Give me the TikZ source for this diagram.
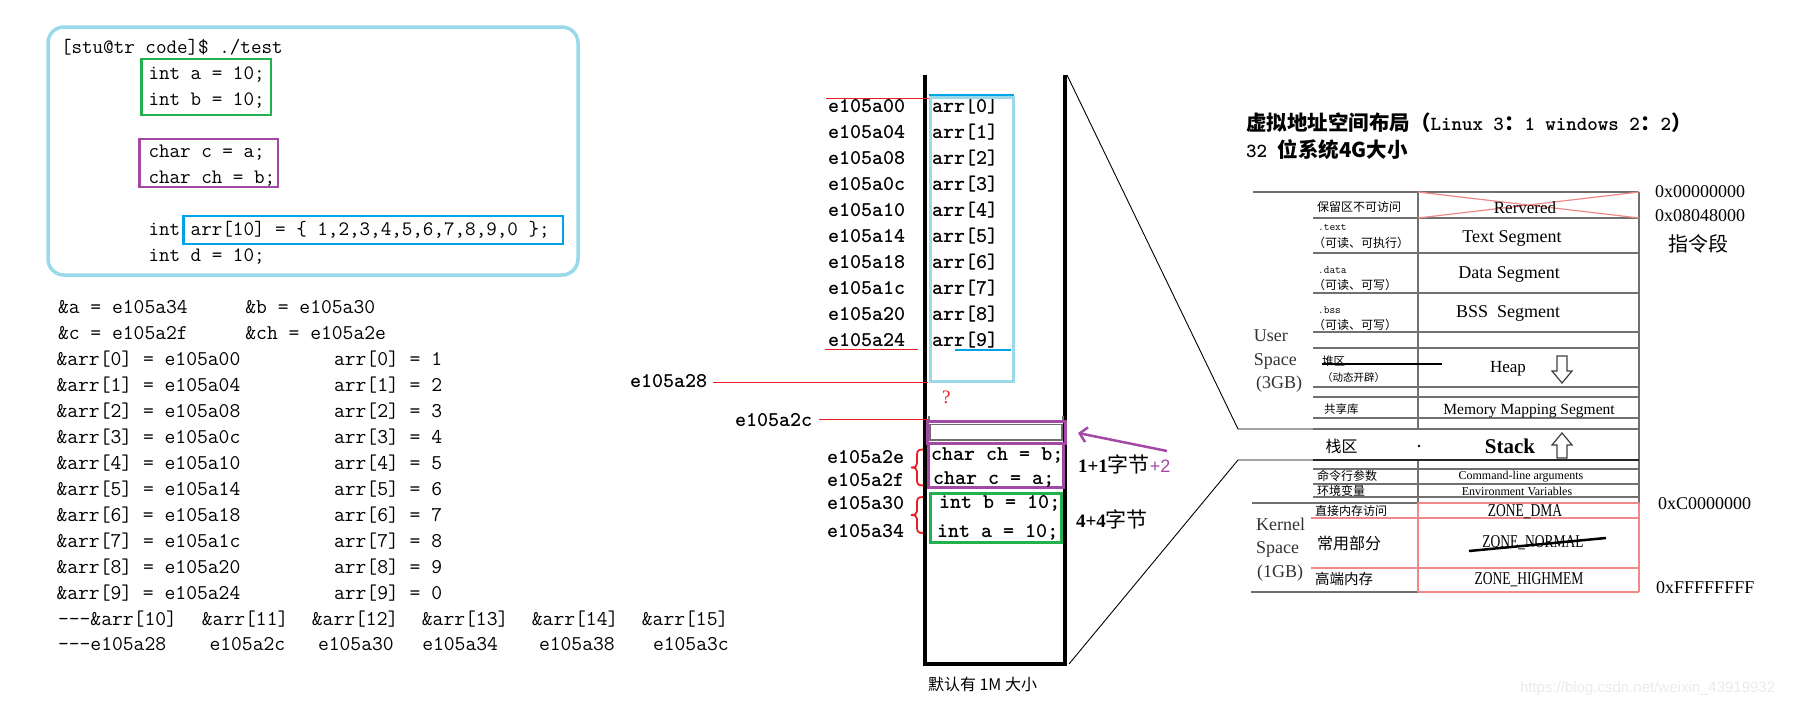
\documentclass[tikz,border=0pt]{standalone}
\usepackage{fontspec}
\usepackage{graphicx}
\newfontfamily\cjk{Noto Sans CJK SC}
\newfontfamily\tms{Liberation Serif}
\newfontfamily\tmsc[FakeStretch=0.75]{Liberation Serif}
\newfontfamily\arl{Liberation Sans}
\usetikzlibrary{arrows.meta}
\definecolor{pgreen}{HTML}{22B14C}
\definecolor{ppurple}{HTML}{A349A4}
\definecolor{pblue}{HTML}{00A2E8}
\definecolor{plblue}{HTML}{99D9EA}
\definecolor{pred}{HTML}{ED1C24}
\definecolor{tred}{HTML}{F08A8A}
\definecolor{tgray}{HTML}{707070}
\newcommand\fs[1]{\fontsize{#1}{#1}\selectfont}
\begin{document}
\begin{tikzpicture}[x=1pt,y=-1pt,
  txt/.style={inner sep=0pt,outer sep=0pt,anchor=base west},
  code/.style={txt,font=\ttfamily\fs{20.5}},
  lst/.style={txt,font=\ttfamily\fs{21}},
  mid/.style={txt,font=\ttfamily\bfseries\fs{21}},
  cl/.style={inner sep=0pt,anchor=west,font=\cjk\fs{12}},
  cc/.style={inner sep=0pt,anchor=center,font=\tms\fs{18}},
  lw/.style={inner sep=0pt,anchor=west,font=\tms\fs{18},text=black!80},
  tline/.style={draw=tgray,line width=1.4},
  rline/.style={draw=tred,line width=1.4},
  redl/.style={draw=pred,line width=1},
  rbrace/.pic={\draw[pred,line width=1.8] (6,-18) .. controls (0,-18) and (0,-16) .. (0,-10) -- (0,-4) .. controls (0,-1) and (-2,0) .. (-6,0) .. controls (-2,0) and (0,1) .. (0,4) -- (0,10) .. controls (0,16) and (0,18) .. (6,18);}
]
\useasboundingbox (0,0) rectangle (1800,704);
\fill[white] (0,0) rectangle (1800,704);

% ---------- top-left code box ----------
\draw[plblue,line width=3.5,rounded corners=16] (48,27) rectangle (578,275);
\draw[pgreen,line width=2.5] (141.6,59) rectangle (271,115);
\draw[ppurple,line width=2.5] (139.7,139) rectangle (278,187);
\draw[pblue,line width=2.5] (183.7,216) rectangle (563,244);
\node[code] (c0) at (61,53) {[stu@tr code]\$ ./test};
\node[code] (c1) at (148.5,79) {int a = 10;};
\node[code] (c2) at (148.5,105) {int b = 10;};
\node[code] (c3) at (148.5,157) {char c = a;};
\node[code] (c4) at (148.5,183) {char ch = b;};
\node[code] (c5) at (148.5,235) {int arr[10] = \{ 1,2,3,4,5,6,7,8,9,0 \};};
\node[code] (c6) at (148.5,261) {int d = 10;};

% ---------- address list ----------
\node[lst] (pa) at (58,313) {\&a = e105a34};
\node[lst] (pb) at (245.4,313) {\&b = e105a30};
\node[lst] (pc) at (58,339) {\&c = e105a2f};
\node[lst] (pch) at (245.4,339) {\&ch = e105a2e};
\foreach \i/\a/\v in {0/00/1,1/04/2,2/08/3,3/0c/4,4/10/5,5/14/6,6/18/7,7/1c/8,8/20/9,9/24/0}{
  \node[lst] (la\i) at (56.5,{365+26*\i}) {\&arr[\i] = e105a\a};
  \node[lst] (lv\i) at (334,{365+26*\i}) {arr[\i] = \v};
  \node[mid] (ma\i) at (828,{112.7+26*\i}) {e105a\a};
  \node[mid] (mv\i) at (932,{112.7+26*\i}) {arr[\i]};
}
\node[lst] (x10) at (58,625) {-{}-{}-\&arr[10]};
\node[lst] (x11) at (201.9,625) {\&arr[11]};
\node[lst] (x12) at (311.9,625) {\&arr[12]};
\node[lst] (x13) at (421.9,625) {\&arr[13]};
\node[lst] (x14) at (531.9,625) {\&arr[14]};
\node[lst] (x15) at (641.9,625) {\&arr[15]};
\node[lst] (y10) at (58,650) {-{}-{}-e105a28};
\node[lst] (y11) at (209.5,650) {e105a2c};
\node[lst] (y12) at (318,650) {e105a30};
\node[lst] (y13) at (422.3,650) {e105a34};
\node[lst] (y14) at (539,650) {e105a38};
\node[lst] (y15) at (653,650) {e105a3c};

% ---------- stack column ----------
\coordinate (sTL) at (925,75); \coordinate (sBL) at (925,664);
\coordinate (sBR) at (1065,664); \coordinate (sTR) at (1065,75);
\draw[black,line width=3.5] (sTL) -- (sBL) -- (sBR) -- (sTR);
\draw[pblue,line width=2] (929,95) -- (1014,95);
\draw[plblue,line width=3] (930,97) rectangle (1013,381);
\draw[pblue,line width=1.5] (955,350) -- (1011,350);
\draw[redl] (826,98) -- (929,98);
\draw[redl] (825,349) -- (918,349);
\node[mid] (m28) at (630,387) {e105a28};
\draw[redl] (713,382) -- (928,382);
\node[txt,font=\tms\fs{19},text=pred] (q) at (942,403) {?};
\node[mid] (m2c) at (735,426) {e105a2c};
\draw[redl] (819,419) -- (928,419);
\draw[tgray,line width=2] (929,416) -- (929,423) (1063,416) -- (1063,423);
\draw[ppurple,line width=3] (927,421) rectangle (1065,443);
\draw[tgray,line width=1.5] (930,424.5) rectangle (1062,440);
\draw[ppurple,line width=3] (928,443.5) rectangle (1063,487);
\draw[pgreen,line width=3] (930,493) rectangle (1061,542);
\node[mid] (s1) at (931,460) {char ch = b;};
\node[mid] (s2) at (933,484) {char c = a;};
\node[mid] (s3) at (939,508) {int b = 10;};
\node[mid] (s4) at (937,537) {int a = 10;};
\node[mid] (m2e) at (827,463) {e105a2e};
\node[mid] (m2f) at (827,486) {e105a2f};
\node[mid] (m30) at (827,509) {e105a30};
\node[mid] (m34) at (827,537) {e105a34};
\pic at (917,467.5) {rbrace};
\pic at (917,515) {rbrace};
\node[txt] (sz) at (928,690) {\cjk\fs{16}默认有 1M 大小};

% annotations
\coordinate (arS) at (1167,451); \coordinate (arE) at (1078,433);
\draw[ppurple,line width=2.5,-{Straight Barb[length=7pt,width=15pt]}] (arS) -- (arE);
\node[txt] (b1) at (1078,472) {{\tms\bfseries\fs{19}1+1}{\cjk\fs{21}字节}{\arl\fs{18}\color{ppurple}+2}};
\node[txt] (b2) at (1076,527) {{\tms\bfseries\fs{19}4+4}{\cjk\fs{21}字节}};

% connectors to layout
\coordinate (u1) at (1238,429); \coordinate (u2) at (1313,429);
\coordinate (d1) at (1238,460); \coordinate (d2) at (1313,460);
\coordinate (uS) at (1067,75); \coordinate (dS) at (1069,664);
\draw[black,line width=0.9] (uS) -- (u1) -- (u2);
\draw[black,line width=0.9] (dS) -- (d1) -- (d2);

% ---------- virtual address space ----------
\node[txt] (t1) at (1246,130) {{\cjk\bfseries\fs{20.5}虚拟地址空间布局（}{\ttfamily\bfseries\fs{20}Linux 3}{\cjk\bfseries\fs{20.5}：}{\ttfamily\bfseries\fs{20}1 windows 2}{\cjk\bfseries\fs{20.5}：}{\ttfamily\bfseries\fs{20}2}{\cjk\bfseries\fs{20.5}）}};
\node[txt] (t2) at (1246,157) {{\ttfamily\bfseries\fs{20}32 }{\cjk\bfseries\fs{20.5}位系统4G大小}};

% grid lines
\draw[tline] (1253,192) -- (1639,192);
\draw[tline] (1418,192) -- (1418,429) (1418,460) -- (1418,503);
\draw[tline] (1639,192) -- (1639,503);
\foreach \yy in {218,253,293,332,348,387,397,418,429,469,484,497}{
  \draw[tline] (1313,\yy) -- (1639,\yy);
}
\draw[black!85,line width=2] (1313,460) -- (1639,460);
\draw[tline] (1252,503) -- (1418,503);
\draw[rline] (1418,503) -- (1639,503);
\draw[rline] (1311,518) -- (1639,518);
\draw[rline] (1311,568) -- (1639,568);
\draw[tline] (1251,592) -- (1418,592);
\draw[rline] (1418,592) -- (1639,592);
\draw[rline] (1418,503) -- (1418,592) (1639,503) -- (1639,592);
\draw[tred,line width=1.2] (1418,192) -- (1639,218) (1418,218) -- (1639,192);
\fill (1419,446) circle (1.3);

% left labels
\node[lw] (us1) at (1253.6,336) {User};
\node[lw] (us2) at (1253.6,361) {Space};
\node[lw] (us3) at (1256,384) {(3GB)};
\node[lw] (ks1) at (1256,524) {Kernel};
\node[lw] (ks2) at (1256,549) {Space};
\node[lw] (ks3) at (1257,573) {(1GB)};

% row labels
\node[cl] (r0) at (1317,207) {保留区不可访问};
\node[inner sep=0pt,anchor=west,font=\ttfamily\fs{11}] (r1a) at (1318,227) {.text};
\node[cl] (r1b) at (1313,243) {（可读、可执行）};
\node[inner sep=0pt,anchor=west,font=\ttfamily\fs{11}] (r2a) at (1318,270) {.data};
\node[cl] (r2b) at (1313,285) {（可读、可写）};
\node[inner sep=0pt,anchor=west,font=\ttfamily\fs{11}] (r3a) at (1318,310) {.bss};
\node[cl] (r3b) at (1313,325) {（可读、可写）};
\node[cl,font=\cjk\fs{11.5}] (r4a) at (1322,361) {堆区};
\draw[black,line width=2.5] (1322,364) -- (1442,364);
\node[cl,font=\cjk\fs{10.5}] (r4b) at (1322,378) {（动态开辟）};
\node[cl,font=\cjk\fs{11.5}] (r5) at (1324,409) {共享库};
\node[cl,font=\cjk\fs{16}] (r6) at (1325.5,446) {栈区};
\node[cl] (r7a) at (1317,476) {命令行参数};
\node[cl] (r7b) at (1317,491) {环境变量};
\node[cl] (r8) at (1315,511) {直接内存访问};
\node[cl,font=\cjk\fs{16}] (r9) at (1317,543) {常用部分};
\node[cl,font=\cjk\fs{14.5}] (r10) at (1315,579) {高端内存};

% right contents
\node[cc,font=\tms\fs{17}] (g0) at (1525,208) {Rervered};
\node[cc] (g1) at (1512,238) {Text Segment};
\node[cc] (g2) at (1509,274) {Data Segment};
\node[cc] (g3) at (1508,313) {BSS\ \ Segment};
\node[cc,font=\tms\fs{17}] (g4) at (1508,369) {Heap};
\draw[black!75,line width=1.2] (1557,356) -- (1567,356) -- (1567,371) -- (1572,371) -- (1562,383) -- (1552,371) -- (1557,371) -- cycle;
\node[cc,font=\tms\fs{15.5}] (g5) at (1529,411) {Memory Mapping Segment};
\node[cc,font=\tms\bfseries\fs{21}] (g6) at (1510,446) {Stack};
\draw[black!75,line width=1.2] (1562,433) -- (1572,445) -- (1567,445) -- (1567,458) -- (1557,458) -- (1557,445) -- (1552,445) -- cycle;
\node[cc,font=\tms\fs{12}] (g7) at (1521,477) {Command-line arguments};
\node[cc,font=\tms\fs{12}] (g8) at (1517,491.5) {Environment Variables};
\node[cc,font=\tmsc\fs{18}] (g9) at (1525,512) {ZONE\_DMA};
\node[cc,font=\tmsc\fs{18}] (g10) at (1533,543) {ZONE\_NORMAL};
\draw[black,line width=2.5] (1469,551) -- (1606,538);
\node[cc,font=\tmsc\fs{18}] (g11) at (1529,580) {ZONE\_HIGHMEM};

% addresses
\node[lw,text=black] (h0) at (1655,192) {0x00000000};
\node[lw,text=black] (h1) at (1655,216) {0x08048000};
\node[inner sep=0pt,anchor=west,font=\cjk\fs{20}] (h2) at (1668,244) {指令段};
\node[lw,text=black] (h3) at (1658,504) {0xC0000000};
\node[lw,text=black] (h4) at (1656,588) {0xFFFFFFFF};

% watermark
\node[txt,font=\arl\fs{15},text=black!8] (wm) at (1520,692) {https://blog.csdn.net/weixin\_43919932};
\end{tikzpicture}
\end{document}
